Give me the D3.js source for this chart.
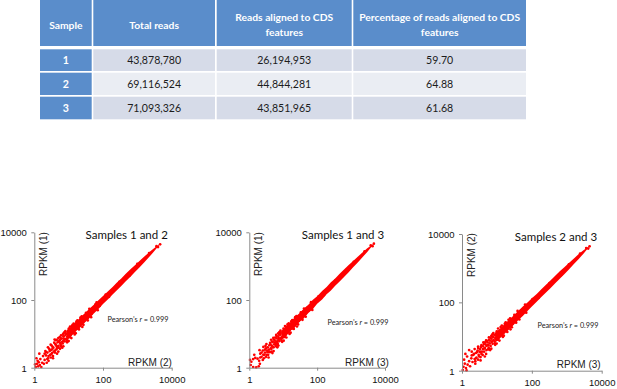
<!DOCTYPE html>
<html>
<head>
<meta charset="utf-8">
<script src="https://cdn.jsdelivr.net/npm/d3@7"></script>
<style>
  html, body { margin: 0; padding: 0; background: #fff; }
  svg { display: block; }
</style>
</head>
<body>
<svg id="chart" width="617" height="389"></svg>
<script>
// ---------------- DATA ----------------
const tableHeader1 = ["Sample", "Total reads", "Reads aligned to CDS", "Percentage of reads aligned to CDS"];
const tableHeader2 = ["", "", "features", "features"];
const sampleIds = ["1", "2", "3"];
const totalReads = ["43,878,780", "69,116,524", "71,093,326"];
const alignedReads = ["26,194,953", "44,844,281", "43,851,965"];
const pctAligned = ["59.70", "64.88", "61.68"];

const plotTitles = ["Samples 1 and 2", "Samples 1 and 3", "Samples 2 and 3"];
const yLabels = ["RPKM (1)", "RPKM (1)", "RPKM (2)"];
const xLabels = ["RPKM (2)", "RPKM (3)", "RPKM (3)"];
const pearsonR = ["0.999", "0.999", "0.999"];
const tickValues = [1, 100, 10000];
const tickLabels = ["1", "100", "10000"];

// dense core of each cloud: x value, lower y, upper y
const bandX1 = [9, 12, 16, 22, 30, 40, 55, 75, 100, 140, 190, 250, 340, 460, 630, 850, 1150, 1600, 2200, 3000, 4300];
const bandLo1 = [6.6, 8.6, 11.8, 15.8, 22, 29, 40.5, 55, 76, 105, 146, 190, 260, 356, 485, 670, 920, 1310, 1850, 2650, 4150];
const bandHi1 = [12.6, 16.8, 22, 30.5, 41, 55, 74, 100, 131, 182, 244, 326, 432, 592, 810, 1070, 1420, 1920, 2580, 3350, 4350];
const bandX2 = [9, 12, 16, 22, 30, 40, 55, 75, 100, 140, 190, 250, 340, 460, 630, 850, 1150, 1600, 2200, 3000, 4400];
const bandLo2 = [6.8, 8.4, 12.1, 15.5, 22.3, 28.5, 41, 54, 77, 104, 148, 188, 263, 353, 490, 665, 925, 1300, 1860, 2640, 4250];
const bandHi2 = [12.3, 17.1, 21.7, 30.8, 40.5, 55.5, 73, 101, 130, 183, 242, 328, 430, 594, 805, 1075, 1415, 1930, 2570, 3360, 4450];
const bandX3 = [9, 12, 16, 22, 30, 40, 55, 75, 100, 140, 190, 250, 340, 460, 630, 850, 1150, 1600, 2200, 3000, 4200];
const bandLo3 = [6.7, 8.7, 11.6, 16.0, 21.8, 29.5, 40, 56, 75, 106, 145, 192, 258, 358, 488, 668, 915, 1315, 1845, 2660, 4050];
const bandHi3 = [12.8, 16.6, 22.3, 30.2, 41.3, 54.5, 75, 99, 132, 180, 246, 324, 435, 590, 812, 1065, 1425, 1915, 2590, 3340, 4250];

// scattered points outside the dense core [x, y]
const sparse1 = [[1.1,1.05],[1.2,1.3],[1.3,1.1],[1.45,1.2],[1.6,1.05],[1.7,1.4],[1.25,1.6],[1.5,1.8],[1.9,1.3],[2.0,1.7],
  [1.15,1.9],[2.2,2.3],[1.8,2.2],[2.5,1.9],[2.4,2.8],[2.9,2.4],[3.0,3.3],[2.7,3.6],[3.3,2.7],[3.6,3.9],
  [3.2,4.5],[4.0,3.2],[4.2,4.8],[4.6,3.9],[3.8,5.5],[5.0,4.4],[5.2,6.0],[4.5,6.6],[5.8,5.0],[6.0,7.2],
  [6.5,5.8],[5.5,8.0],[7.0,6.2],[7.2,8.5],[6.8,9.5],[8.0,7.0],[8.5,10],[7.8,11],[9.0,8.2],[9.5,12],
  [10,8.6],[11,13.5],[12,10.5],[10.5,14.5],[13,11.5],[14,16.5],[12.5,17],[15,13],[16,19.5],[18,15.5],
  [17,22],[20,17.5],[22,26],[25,21],[24,30],[28,25],[30,36],[35,29],[1.35,1.45],[1.05,1.25],
  [2.3,1.4],[3.5,2.2],[2.1,3.1],[45,38],[60,74],[80,67],[120,145],[150,124],[300,345],[600,530],
  [1000,1160],[2200,2450],[3600,3900],[4600,4400],[4000,3650],[1.4,2.6],[2.6,1.6],[5.6,3.6],[3.9,6.8],[9.2,6.4],
  [2.2,2.9],[2.4,1.8],[2.8,3.1],[3.1,2.5],[3.4,4.1],[3.7,3.0],[4.1,5.0],[4.4,3.5],[4.8,5.6],[5.1,3.9],
  [5.5,6.5],[5.9,4.6],[6.3,7.3],[6.7,5.2],[7.1,8.3],[7.6,6.0],[8.1,9.3],[8.7,7.1],[9.3,10.8],[9.9,7.9],
  [10.6,12.2],[11.4,9.2],[12.2,14],[13,10.6],[14,15.8],[15,12.5],[16,18],[17.5,14.5],[19,21],[20.5,17],
  [22,24.5],[24,20],[26,28.5],[28,23.5],[30,33],[33,28],[36,39],[39,34],[42,46],[46,40],
  [50,55],[54,47],[2.6,2.2],[3.3,3.5],[4.5,4.3],[5.7,5.4],[7.4,7.0],[9.6,9.2],[3.0,2.0],[4.0,2.8],
  [2.0,2.6],[6.0,4.2],[8.8,6.2],[5.0,7.5],[7.0,10.2],[11,8.0],[10,14],[14,11],[19,14.5],[17,23.5],
  [3,4.8],[3.5,1.9],[4.2,6.5],[5,3.0],[6,9],[7,4.3],[8,12],[9,5.6],[11,16.5],[12,7.5],
  [14,20],[16,10.5],[18,25],[20,13.5],[24,33],[27,18.5],[32,42],[36,25],[2.5,4],[4.6,2.6],
  [6.5,3.9],[7.5,11],[10,6.1],[13,18.5],[15,9.6],[22,30],[25,16],[40,55],[45,31],[65,85],[70,50]];
const sparse2 = [[1.1,1.2],[1.15,1.5],[1.3,1.8],[1.5,1.95],[1.75,1.85],[1.95,1.6],[2.05,1.3],[1.9,1.1],[1.6,1.02],[1.3,1.05],
  [1.05,1.7],[2.3,2.1],[2.1,2.6],[2.6,2.4],[2.5,3.2],[2.9,2.8],[3.1,3.7],[3.4,2.9],[3.0,4.4],[3.8,3.4],
  [3.9,4.6],[4.3,3.7],[4.1,5.4],[4.8,4.2],[4.7,5.9],[5.4,4.9],[5.3,6.8],[6.0,5.4],[5.8,7.8],[6.6,6.0],
  [6.4,8.6],[7.2,6.6],[7.5,9.4],[8.2,7.4],[8.0,10.5],[9.0,8.0],[9.5,11.5],[10.5,9.2],[11,13],[12,10.4],
  [12.5,15],[13.5,12],[14,17],[15.5,13.5],[16.5,19.5],[18,15.5],[19,22],[21,18],[22,26],[25,21],
  [27,31],[30,26],[33,37],[36,31],[2.7,1.9],[3.6,2.4],[1.4,2.4],[2.0,3.3],[4.5,3.0],[6.8,4.9],
  [50,58],[70,62],[110,128],[160,140],[350,390],[700,640],[1200,1330],[2500,2750],[3800,4100],[4700,4600],[4300,3900],
  [2.3,2.8],[2.5,1.7],[2.9,3.4],[3.2,2.4],[3.5,4.0],[3.8,2.9],[4.2,4.9],[4.5,3.6],[4.9,5.7],[5.2,4.0],
  [5.6,6.4],[6.0,4.7],[6.4,7.4],[6.8,5.3],[7.2,8.1],[7.7,6.1],[8.2,9.4],[8.8,7.0],[9.4,10.6],[10,8.0],
  [10.8,12.4],[11.5,9.3],[12.4,13.8],[13.2,10.8],[14.2,16],[15.2,12.6],[16.3,18.2],[17.8,14.7],[19.3,21.5],[20.8,17.2],
  [22.4,25],[24.3,20.4],[26.4,29],[28.5,24],[30.5,33.5],[33.5,28.5],[36.5,40],[40,34.5],[43,47],[47,41],
  [51,56],[55,48],[2.7,2.4],[3.4,3.2],[4.6,4.4],[5.8,5.6],[7.5,7.2],[9.7,9.4],[3.1,2.1],[4.1,2.9],
  [2.1,2.0],[6.1,4.3],[8.9,6.3],[5.1,7.6],[7.1,10.4],[11.2,8.1],[10.2,14.2],[14.3,11.1],[18.8,14.6],[17.2,23.3],
  [3.2,5.0],[3.7,2.0],[4.4,6.7],[5.2,3.1],[6.2,9.3],[7.2,4.5],[8.3,12.4],[9.3,5.8],[11.3,17],[12.4,7.8],
  [14.5,20.5],[16.5,10.8],[18.5,25.5],[20.5,14],[24.5,33.5],[27.5,19],[33,43],[37,26],[2.6,4.1],[4.8,2.7],
  [6.7,4.0],[7.7,11.3],[10.3,6.3],[13.4,19],[15.4,9.9],[22.5,31],[25.5,16.5],[41,56],[46,32],[66,86],[72,51]];
const sparse3 = [[1.1,1.3],[1.2,1.6],[1.15,2.1],[1.3,1.2],[1.45,1.5],[1.6,1.9],[1.4,2.6],[1.7,1.35],[1.85,2.3],[1.25,3.1],
  [2.0,1.8],[2.1,2.9],[2.3,2.2],[1.9,3.6],[2.5,3.3],[2.6,2.4],[2.8,3.9],[3.0,2.9],[2.9,4.6],[3.3,3.5],
  [3.5,4.9],[3.7,3.6],[3.6,5.6],[4.0,4.3],[4.2,6.0],[4.5,4.6],[4.6,6.8],[5.0,5.3],[5.2,7.4],[5.6,5.6],
  [5.9,8.0],[6.2,6.3],[6.6,9.0],[7.0,7.0],[7.4,10],[8.0,7.9],[8.4,11.2],[9.0,8.6],[9.6,12.4],[10.3,9.4],
  [11,13.8],[12,10.8],[12.5,15.5],[13.5,12],[14.5,17.5],[16,14],[17,20],[18.5,16],[20,23],[22,19],
  [24,28],[27,23],[29,34],[33,28],[1.05,1.05],[1.35,1.02],[2.4,1.6],[3.4,2.5],[5.6,4.2],[1.6,4.0],
  [48,56],[66,60],[105,125],[155,135],[320,365],[680,620],[1150,1290],[2400,2650],[3600,3900],[4500,4350],[4100,3750],
  [2.2,3.1],[2.4,1.9],[2.7,3.5],[3.1,2.6],[3.3,4.3],[3.6,3.1],[4.0,5.2],[4.3,3.6],[4.7,5.9],[5.0,4.0],
  [5.4,6.7],[5.8,4.7],[6.2,7.6],[6.6,5.3],[7.0,8.6],[7.5,6.1],[8.0,9.6],[8.6,7.2],[9.2,11],[9.8,8.0],
  [10.5,12.5],[11.3,9.3],[12.1,14.3],[12.9,10.7],[13.9,16.2],[14.9,12.6],[15.9,18.4],[17.3,14.6],[18.8,21.4],[20.3,17.1],
  [21.8,24.8],[23.8,20.2],[25.8,29],[27.8,23.8],[29.8,33.5],[32.8,28.2],[35.8,39.5],[38.8,34.2],[41.8,46.5],[45.8,40.3],
  [49.5,55.5],[53.5,47.3],[2.5,2.3],[3.2,3.6],[4.4,4.5],[5.6,5.6],[7.3,7.2],[9.5,9.4],[2.9,2.1],[3.9,2.9],
  [1.9,2.8],[5.9,4.3],[8.7,6.3],[4.9,7.7],[6.9,10.4],[10.8,8.1],[9.9,14.2],[13.8,11.1],[18.6,14.7],[16.8,23.6],
  [2.9,5.1],[3.4,2.0],[4.1,6.8],[4.9,3.1],[5.9,9.4],[6.9,4.4],[7.9,12.6],[8.9,5.7],[10.8,17.2],[11.8,7.6],
  [13.8,21],[15.8,10.6],[17.8,26],[19.8,13.6],[23.8,34],[26.8,18.7],[31.5,43],[35.5,25.5],[2.3,4.3],[4.5,2.6],
  [6.4,4.0],[7.4,11.5],[9.8,6.2],[12.8,19],[14.8,9.7],[21.5,31],[24.5,16.2],[39,56],[44,31.5],[64,86],[69,50]];

// ---------------- DRAW ----------------
const svg = d3.select("#chart");

// ---- table ----
const colEdges = [40, 93.3, 216.7, 353.3];
const colRight = [91.7, 215, 351.7, 526];
const headerBlue = "#5a8dcb";
const rowFills = ["#d6dbe8", "#eaedf3", "#d6dbe8"];
const rowTop = [49.3, 72.7, 96.7];
const rowBot = [71, 95, 119.3];

const cols = d3.range(4);
svg.append("g").selectAll("rect").data(cols).join("rect")
  .attr("x", i => colEdges[i]).attr("y", 0)
  .attr("width", i => colRight[i] - colEdges[i]).attr("height", 46)
  .attr("fill", headerBlue);

const hdr = svg.append("g").attr("font-family", "Lato, 'Open Sans', sans-serif")
  .attr("font-weight", "bold").attr("font-size", 10.3).attr("fill", "#fff").attr("text-anchor", "middle");
cols.forEach(i => {
  const cx = (colEdges[i] + colRight[i]) / 2;
  if (tableHeader2[i]) {
    hdr.append("text").attr("x", cx).attr("y", 21).text(tableHeader1[i]);
    hdr.append("text").attr("x", cx).attr("y", 36).text(tableHeader2[i]);
  } else {
    hdr.append("text").attr("x", cx).attr("y", 28.7).text(tableHeader1[i]);
  }
});

const rows = [0, 1, 2];
rows.forEach(r => {
  const vals = [sampleIds[r], totalReads[r], alignedReads[r], pctAligned[r]];
  cols.forEach(i => {
    svg.append("rect").attr("x", colEdges[i]).attr("y", rowTop[r])
      .attr("width", colRight[i] - colEdges[i]).attr("height", rowBot[r] - rowTop[r])
      .attr("fill", i === 0 ? headerBlue : rowFills[r]);
    svg.append("text").attr("x", (colEdges[i] + colRight[i]) / 2).attr("y", (rowTop[r] + rowBot[r]) / 2 + 3.8)
      .attr("text-anchor", "middle")
      .attr("font-family", "Lato, 'Open Sans', sans-serif")
      .attr("font-weight", i === 0 ? "bold" : "normal")
      .attr("font-size", 10.6).attr("fill", i === 0 ? "#fff" : "#1c1c1c")
      .text(vals[i]);
  });
});

// ---- scatter plots ----
const plots = [
  { x0: 34.3, x1: 171.7, yT: 232.3, yB: 367.7, bx: bandX1, bl: bandLo1, bh: bandHi1, pts: sparse1,
    title: [126.7, 239], ylab: [43.5, 254], xlab: [150, 365.5], pr: [138, 322] },
  { x0: 249.3, x1: 385, yT: 232.3, yB: 367.7, bx: bandX2, bl: bandLo2, bh: bandHi2, pts: sparse2,
    title: [343, 239], ylab: [258.5, 254], xlab: [367, 365.5], pr: [358, 325] },
  { x0: 462, x1: 601.7, yT: 234, yB: 370.7, bx: bandX3, bl: bandLo3, bh: bandHi3, pts: sparse3,
    title: [556, 241], ylab: [471.7, 255], xlab: [578.7, 367.5], pr: [568, 327.5] }
];

const axisGray = "#8a8a8a";
plots.forEach((p, k) => {
  const x = d3.scaleLog().domain([1, 10000]).range([p.x0, p.x1]);
  const y = d3.scaleLog().domain([1, 10000]).range([p.yB, p.yT]);
  const g = svg.append("g");

  // dense band
  const bandData = p.bx.map((v, i) => ({ x: v, lo: p.bl[i], hi: p.bh[i] }));
  g.append("path").datum(bandData)
    .attr("d", d3.area().x(d => x(d.x)).y0(d => y(d.lo)).y1(d => y(d.hi)))
    .attr("fill", "#ff0000");

  // scattered points
  g.selectAll("circle").data(p.pts).join("circle")
    .attr("cx", d => x(d[0])).attr("cy", d => y(d[1])).attr("r", 1.35)
    .attr("fill", "#ff0000");

  // axes
  const xa = g.append("g").attr("transform", `translate(0,${p.yB})`)
    .call(d3.axisBottom(x).tickValues(tickValues).tickFormat((d, i) => tickLabels[i]).tickSize(3).tickSizeOuter(0));
  const ya = g.append("g").attr("transform", `translate(${p.x0},0)`)
    .call(d3.axisLeft(y).tickValues(tickValues).tickFormat((d, i) => tickLabels[i]).tickSize(3).tickSizeOuter(0));
  [xa, ya].forEach(a => {
    a.select(".domain").attr("stroke", axisGray);
    a.selectAll(".tick line").attr("stroke", axisGray);
    a.selectAll(".tick text").attr("fill", "#111").attr("font-family", "'Liberation Sans', Arial, sans-serif").attr("font-size", 9.5);
  });
  xa.selectAll(".tick text").attr("dy", null).attr("y", 15.5);
  ya.selectAll(".tick text").attr("x", -7.5).attr("dy", "0.35em");

  // labels
  svg.append("text").attr("x", p.title[0]).attr("y", p.title[1]).attr("text-anchor", "middle")
    .attr("font-family", "Lato, 'Open Sans', sans-serif").attr("font-size", 11.5).attr("fill", "#111")
    .text(plotTitles[k]);
  svg.append("text").attr("transform", `translate(${p.ylab[0]},${p.ylab[1]}) rotate(-90)`)
    .attr("text-anchor", "middle").attr("dy", "0.35em")
    .attr("font-family", "'Liberation Sans', Arial, sans-serif").attr("font-size", 10).attr("fill", "#222")
    .text(yLabels[k]);
  svg.append("text").attr("x", p.xlab[0]).attr("y", p.xlab[1]).attr("text-anchor", "middle")
    .attr("font-family", "'Liberation Sans', Arial, sans-serif").attr("font-size", 10).attr("fill", "#222")
    .text(xLabels[k]);
  const pt = svg.append("text").attr("x", p.pr[0]).attr("y", p.pr[1]).attr("text-anchor", "middle")
    .attr("font-family", "Lato, 'Open Sans', sans-serif").attr("font-size", 7.3).attr("fill", "#222");
  pt.append("tspan").text("Pearson\u2019s ");
  pt.append("tspan").attr("font-style", "italic").text("r");
  pt.append("tspan").text(" = " + pearsonR[k]);
});
</script>
</body>
</html>
